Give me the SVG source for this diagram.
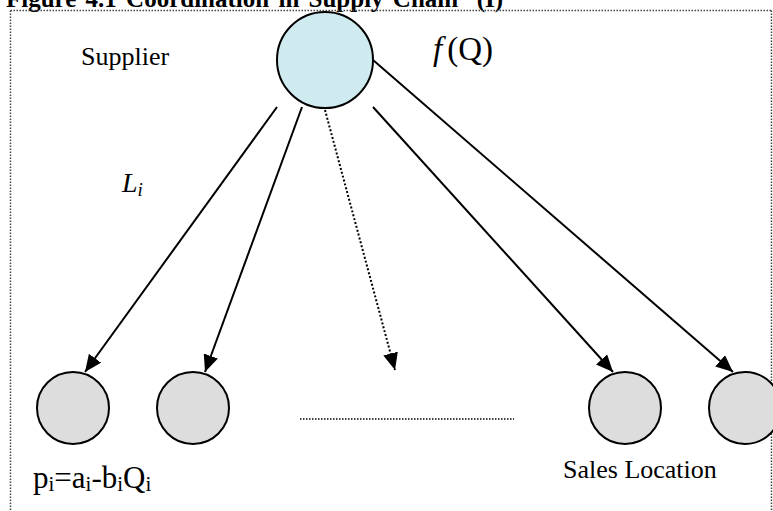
<svg xmlns="http://www.w3.org/2000/svg" width="773" height="511" viewBox="0 0 773 511">
<defs>
<style>
.t{font-family:"Liberation Serif","Times New Roman",serif;fill:#000}
.node{stroke:#000;stroke-width:2}
.sup{fill:#CFEBEF}
.loc{fill:#DDDDDD}
.edge{stroke:#000;stroke-width:2;fill:none}
.dot{stroke:#000;stroke-width:2;fill:none;stroke-dasharray:2 2}
</style>
<marker id="ah" viewBox="0 0 17 15" refX="17" refY="7.5" markerWidth="17" markerHeight="15" orient="auto" markerUnits="userSpaceOnUse">
<path d="M0,0 L17,7.5 L0,15 z" fill="#000"/>
</marker>
</defs>
<rect width="773" height="511" fill="#fff"/>
<text class="t" x="6" y="7" font-size="25" font-weight="bold" word-spacing="3" xml:space="preserve">Figure 4.1 Coordination in Supply Chain  (I)</text>
<path d="M10.5,10.5 H771.5 M10.5,10.5 V511 M771.5,10.5 V511" stroke="#444" stroke-width="1.5" stroke-dasharray="1.5 1.5" fill="none"/>
<g id="connectors">
<line class="edge" x1="277" y1="107" x2="85" y2="372" marker-end="url(#ah)"/>
<line class="edge" x1="302" y1="107" x2="205" y2="372" marker-end="url(#ah)"/>
<line class="dot" x1="325" y1="110" x2="395" y2="370" marker-end="url(#ah)"/>
<line class="edge" x1="373" y1="107" x2="613" y2="372" marker-end="url(#ah)"/>
<line class="edge" x1="373" y1="60" x2="733" y2="372" marker-end="url(#ah)"/>
<line x1="300" y1="419" x2="514" y2="419" stroke="#000" stroke-width="1.5" stroke-dasharray="1.5 1.5"/>
</g>
<g id="supplier">
<circle class="node sup" cx="325" cy="60" r="48"/>
<text class="t" x="81" y="65" font-size="26">Supplier</text>
<text class="t" x="433" y="60" font-size="33"><tspan font-style="italic">f</tspan><tspan dx="5">(Q)</tspan></text>
</g>
<text class="t" x="122" y="192" font-size="28" font-style="italic">L<tspan font-size="19" dy="4">i</tspan></text>
<g id="loc1">
<circle class="node loc" cx="73" cy="408" r="36"/>
<text class="t" x="33" y="488" font-size="31">p<tspan font-size="21" dy="3">i</tspan><tspan dy="-3">=a</tspan><tspan font-size="21" dy="3">i</tspan><tspan dy="-3">-b</tspan><tspan font-size="21" dy="3">i</tspan><tspan dy="-3">Q</tspan><tspan font-size="21" dy="3">i</tspan></text>
</g>
<g id="loc2"><circle class="node loc" cx="193" cy="408" r="36"/></g>
<g id="loc3">
<circle class="node loc" cx="625" cy="408" r="36"/>
<text class="t" x="563" y="478" font-size="26">Sales Location</text>
</g>
<g id="loc4"><circle class="node loc" cx="745" cy="408" r="36"/></g>
</svg>
